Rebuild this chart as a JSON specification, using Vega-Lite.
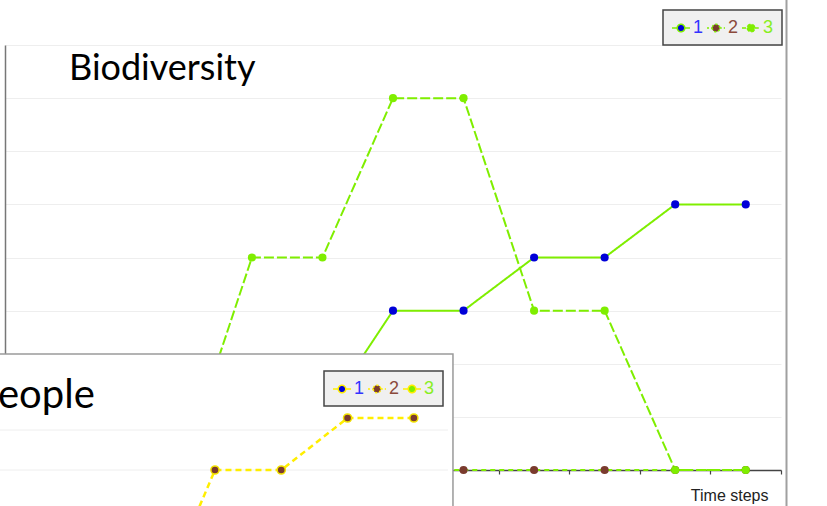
{
  "$schema": "https://vega.github.io/schema/vega-lite/v6.json",
  "width": 776,
  "height": 425,
  "autosize": "none",
  "padding": {"left": 5, "top": 45, "right": 46, "bottom": 36},
  "background": "white",
  "config": {"view": {"stroke": null}, "font": "Liberation Sans"},
  "datasets": {
    "bio": [
      {"series": "1", "t": 1, "v": 0}, {"series": "1", "t": 2, "v": 0}, {"series": "1", "t": 3, "v": 0},
      {"series": "1", "t": 4, "v": 1}, {"series": "1", "t": 5, "v": 1}, {"series": "1", "t": 6, "v": 3},
      {"series": "1", "t": 7, "v": 3}, {"series": "1", "t": 8, "v": 4}, {"series": "1", "t": 9, "v": 4},
      {"series": "1", "t": 10, "v": 5}, {"series": "1", "t": 11, "v": 5},
      {"series": "2", "t": 1, "v": 0}, {"series": "2", "t": 2, "v": 0}, {"series": "2", "t": 3, "v": 0},
      {"series": "2", "t": 4, "v": 0}, {"series": "2", "t": 5, "v": 0}, {"series": "2", "t": 6, "v": 0},
      {"series": "2", "t": 7, "v": 0}, {"series": "2", "t": 8, "v": 0}, {"series": "2", "t": 9, "v": 0},
      {"series": "2", "t": 10, "v": 0}, {"series": "2", "t": 11, "v": 0},
      {"series": "3", "t": 1, "v": 0}, {"series": "3", "t": 2, "v": 0}, {"series": "3", "t": 3, "v": 0},
      {"series": "3", "t": 4, "v": 4}, {"series": "3", "t": 5, "v": 4}, {"series": "3", "t": 6, "v": 7},
      {"series": "3", "t": 7, "v": 7}, {"series": "3", "t": 8, "v": 3}, {"series": "3", "t": 9, "v": 3},
      {"series": "3", "t": 10, "v": 0}, {"series": "3", "t": 11, "v": 0}
    ],
    "people": [
      {"series": "2", "t": 3, "v": 1}, {"series": "2", "t": 4, "v": 4}, {"series": "2", "t": 5, "v": 4},
      {"series": "2", "t": 6, "v": 5}, {"series": "2", "t": 7, "v": 5}
    ],
    "bioTitle": [{"label": "Biodiversity"}],
    "peopleTitle": [{"label": "People"}],
    "panel": [{"name": "window"}]
  },
  "layer": [
    {
      "layer": [
        {
          "data": {"name": "bio"},
          "mark": {"type": "line", "stroke": "#7fee00", "strokeWidth": 2},
          "encoding": {
            "x": {
              "field": "t", "type": "quantitative",
              "scale": {"domain": [0.5, 11.5], "nice": false, "zero": false},
              "axis": {
                "values": [0.5, 1.5, 2.5, 3.5, 4.5, 5.5, 6.5, 7.5, 8.5, 9.5, 10.5, 11.5],
                "labels": false, "ticks": true, "tickSize": 4, "tickColor": "#444", "tickWidth": 1.2,
                "domainColor": "#444", "domainWidth": 1.5, "grid": false,
                "title": "Time steps", "titleX": 763, "titleY": 30, "titleAlign": "right",
                "titleBaseline": "alphabetic", "titleFontSize": 16, "titleFontWeight": "normal",
                "titleColor": "#222", "titleFont": "Liberation Sans"
              }
            },
            "y": {
              "field": "v", "type": "quantitative",
              "scale": {"domain": [0, 8], "nice": false, "zero": false},
              "axis": {
                "values": [0, 1, 2, 3, 4, 5, 6, 7, 8], "labels": false, "ticks": false,
                "domainColor": "#777", "domainWidth": 1.5, "grid": true,
                "gridColor": "#eeeeee", "gridWidth": 1, "title": null
              }
            },
            "strokeDash": {
              "field": "series", "type": "nominal",
              "scale": {"domain": ["1", "2", "3"], "range": [[1, 0], [5, 4], [10, 3]]},
              "legend": null
            }
          }
        },
        {
          "data": {"name": "bio"},
          "mark": {"type": "circle", "size": 66, "opacity": 1},
          "encoding": {
            "x": {"field": "t", "type": "quantitative"},
            "y": {"field": "v", "type": "quantitative"},
            "fill": {
              "field": "series", "type": "nominal",
              "scale": {"domain": ["1", "2", "3"], "range": ["#0000d8", "#7a3b2e", "#7fee00"]},
              "legend": {
                "orient": "none", "legendX": 658, "legendY": -35, "direction": "horizontal",
                "title": null,
                "symbolType": "M-1,0H-0.42M0.42,0H1M-0.42,0A0.42,0.42 0 1,0 0.42,0A0.42,0.42 0 1,0 -0.42,0Z",
                "symbolSize": 324, "symbolStrokeColor": "#7fee00", "symbolStrokeWidth": 1.5,
                "symbolOpacity": 1,
                "labelFontSize": 18, "labelOffset": 2, "columnPadding": 0, "padding": 8,
                "fillColor": "#f0f0f0", "strokeColor": "#444", "labelFont": "Liberation Sans",
                "encode": {
                  "labels": {"update": {"fill": {"signal": "datum.value === '1' ? '#3333ff' : datum.value === '2' ? '#8b4a3c' : '#88ee22'"}}},
                  "symbols": {"update": {"stroke": {"value": "#7fee00"}, "strokeDash": {"signal": "datum.value === '2' ? [2, 2] : datum.value === '3' ? [4, 2] : [1, 0]"}}},
                  "legend": {"update": {"strokeWidth": {"value": 1.5}}}
                }
              }
            }
          }
        },
        {
          "data": {"name": "bioTitle"},
          "mark": {"type": "text", "font": "Lato", "fontSize": 36, "align": "left", "baseline": "alphabetic", "fill": "#000"},
          "encoding": {
            "x": {"datum": 1.407, "type": "quantitative"},
            "y": {"datum": 7.341, "type": "quantitative"},
            "text": {"field": "label", "type": "nominal"}
          }
        },
        {
          "data": {"name": "panel"},
          "mark": {"type": "rule", "stroke": "#a0a0a0", "strokeWidth": 2},
          "encoding": {
            "x": {"datum": 11.578, "type": "quantitative"},
            "y": {"datum": 8.9, "type": "quantitative"},
            "y2": {"datum": -0.8}
          }
        }
      ]
    },
    {
      "layer": [
        {
          "data": {"name": "panel"},
          "mark": {"type": "rect", "fill": "white", "stroke": "#9a9a9a", "strokeWidth": 1.5},
          "encoding": {
            "x": {"datum": 0.6, "type": "quantitative", "scale": {"domain": [0.833, 12.538], "nice": false, "zero": false}, "axis": null},
            "x2": {"datum": 7.59},
            "y": {"datum": 6.231, "type": "quantitative", "scale": {"domain": [4, 12.1731], "nice": false, "zero": false}, "axis": null},
            "y2": {"datum": 3.135}
          }
        },
        {
          "data": {"name": "panel"},
          "mark": {"type": "rule", "stroke": "#eeeeee", "strokeWidth": 1},
          "encoding": {
            "x": {"datum": 0.6, "type": "quantitative"},
            "x2": {"datum": 7.515},
            "y": {"datum": 4.769, "type": "quantitative"}
          }
        },
        {
          "data": {"name": "panel"},
          "mark": {"type": "rule", "stroke": "#eeeeee", "strokeWidth": 1},
          "encoding": {
            "x": {"datum": 0.6, "type": "quantitative"},
            "x2": {"datum": 7.515},
            "y": {"datum": 4, "type": "quantitative"}
          }
        },
        {
          "data": {"name": "peopleTitle"},
          "mark": {"type": "text", "font": "Lato", "fontSize": 40, "align": "left", "baseline": "alphabetic", "fill": "#000"},
          "encoding": {
            "x": {"datum": 0.381, "type": "quantitative"},
            "y": {"datum": 5.192, "type": "quantitative"},
            "text": {"field": "label", "type": "nominal"}
          }
        },
        {
          "data": {"name": "people"},
          "mark": {"type": "line", "stroke": "#ffee00", "strokeWidth": 2.5, "strokeDash": [6, 4]},
          "encoding": {
            "x": {"field": "t", "type": "quantitative"},
            "y": {"field": "v", "type": "quantitative"},
            "detail": {"field": "series", "type": "nominal"}
          }
        },
        {
          "data": {"name": "people"},
          "mark": {"type": "point", "filled": true, "size": 66, "stroke": "#f2e200", "strokeWidth": 1.5, "opacity": 1},
          "encoding": {
            "x": {"field": "t", "type": "quantitative"},
            "y": {"field": "v", "type": "quantitative"},
            "fill": {
              "field": "series", "type": "nominal",
              "scale": {"domain": ["1", "2", "3"], "range": ["#0000d8", "#7a3b2e", "#7fee00"]},
              "legend": {
                "orient": "none", "legendX": 319, "legendY": 326, "direction": "horizontal",
                "title": null,
                "symbolType": "M-1,0H-0.42M0.42,0H1M-0.42,0A0.42,0.42 0 1,0 0.42,0A0.42,0.42 0 1,0 -0.42,0Z",
                "symbolSize": 324, "symbolStrokeColor": "#ffee00", "symbolStrokeWidth": 1.5,
                "symbolOpacity": 1,
                "labelFontSize": 18, "labelOffset": 2, "columnPadding": 0, "padding": 8,
                "fillColor": "#f0f0f0", "strokeColor": "#444", "labelFont": "Liberation Sans",
                "encode": {
                  "labels": {"update": {"fill": {"signal": "datum.value === '1' ? '#3333ff' : datum.value === '2' ? '#8b4a3c' : '#88ee22'"}}},
                  "symbols": {"update": {"stroke": {"value": "#ffee00"}, "strokeDash": {"signal": "datum.value === '2' ? [2, 2] : [1, 0]"}}},
                  "legend": {"update": {"strokeWidth": {"value": 1.5}}}
                }
              }
            }
          }
        }
      ]
    }
  ],
  "resolve": {
    "scale": {"x": "independent", "y": "independent", "fill": "independent"},
    "legend": {"fill": "independent"}
  }
}
